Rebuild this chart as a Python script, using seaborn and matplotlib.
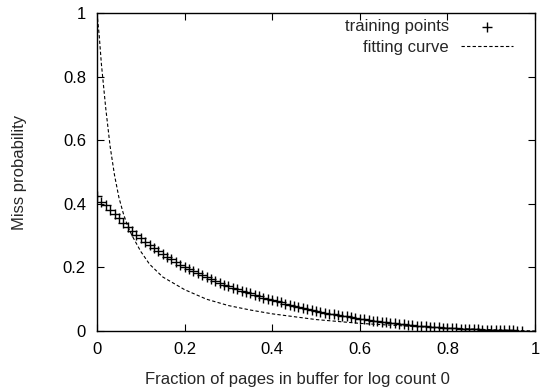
import matplotlib
matplotlib.use("Agg")
import matplotlib.pyplot as plt
import seaborn as sns
import pandas as pd

# Measured miss probability, sampled every 0.01 of buffer fraction
train_x = [i / 100 for i in range(98)]
train_miss = [
    0.425, 0.405, 0.395, 0.382, 0.368, 0.354, 0.340, 0.327, 0.315, 0.303,
    0.292, 0.281, 0.270, 0.260, 0.251, 0.242, 0.233, 0.225, 0.217, 0.209,
    0.202, 0.195, 0.188, 0.181, 0.175, 0.169, 0.163, 0.157, 0.152, 0.146,
    0.141, 0.136, 0.131, 0.127, 0.122, 0.118, 0.114, 0.110, 0.105, 0.101,
    0.097, 0.093, 0.090, 0.086, 0.083, 0.080, 0.077, 0.073, 0.070, 0.067,
    0.064, 0.061, 0.058, 0.055, 0.053, 0.050, 0.048, 0.046, 0.043, 0.041,
    0.039, 0.037, 0.035, 0.033, 0.031, 0.029, 0.027, 0.026, 0.024, 0.023,
    0.021, 0.020, 0.019, 0.017, 0.016, 0.015, 0.014, 0.013, 0.012, 0.011,
    0.010, 0.009, 0.008, 0.0075, 0.007, 0.006, 0.0055, 0.005, 0.0045, 0.004,
    0.004, 0.0035, 0.003, 0.0028, 0.0025, 0.002, 0.0015, 0.001,
]

# Fitted model evaluated along the buffer fraction
fit_x = [0.0, 0.005, 0.01, 0.02, 0.03, 0.04, 0.05, 0.06, 0.07, 0.08, 0.10,
         0.12, 0.15, 0.20, 0.25, 0.30, 0.35, 0.40, 0.50, 0.60, 0.70, 0.80,
         0.90, 1.00]
fit_miss = [1.0, 0.93, 0.84, 0.70, 0.58, 0.49, 0.42, 0.37, 0.33, 0.30, 0.25,
            0.21, 0.17, 0.13, 0.10, 0.08, 0.066, 0.054, 0.036, 0.024, 0.016,
            0.009, 0.004, 0.0]

x_ticks = [0, 0.2, 0.4, 0.6, 0.8, 1]
y_ticks = [0, 0.2, 0.4, 0.6, 0.8, 1]
x_tick_labels = ["0", "0.2", "0.4", "0.6", "0.8", "1"]
y_tick_labels = ["0", "0.2", "0.4", "0.6", "0.8", "1"]

sns.set_theme(style="ticks")
plt.rcParams["font.family"] = ["Liberation Sans", "DejaVu Sans"]
plt.rcParams["font.size"] = 12

train_df = pd.DataFrame({"x": train_x, "miss": train_miss})
fit_df = pd.DataFrame({"x": fit_x, "miss": fit_miss})

fig = plt.figure(figsize=(5.41, 3.92), dpi=100)
ax = fig.add_axes([97 / 541, 61 / 392, 438 / 541, 318 / 392])

sns.scatterplot(data=train_df, x="x", y="miss", marker="+", s=60,
                color="black", linewidth=1.0, ax=ax, label="training points",
                zorder=3)
sns.lineplot(data=fit_df, x="x", y="miss", color="black", linewidth=0.8,
             ax=ax, label="fitting curve", zorder=2)
ax.lines[-1].set_linestyle((0, (3, 2)))

ax.set_xlim(0, 1)
ax.set_ylim(0, 1)
ax.set_xticks(x_ticks)
ax.set_xticklabels(x_tick_labels)
ax.set_yticks(y_ticks)
ax.set_yticklabels(y_tick_labels)
ax.tick_params(direction="in", length=5, width=0.8, top=True, right=True,
               labelsize=12, colors="black", pad=8)
for side in ax.spines.values():
    side.set_visible(True)
    side.set_linewidth(1.0)
    side.set_color("black")

ax.set_xlabel("Fraction of pages in buffer for log count 0", fontsize=12,
              labelpad=11)
ax.xaxis.label.set_x(0.457)
ax.set_ylabel("Miss probability", fontsize=12, labelpad=26)

leg = ax.legend(loc="upper right", frameon=False, markerfirst=False,
                fontsize=12, handlelength=3.1, borderaxespad=0.0,
                borderpad=0.0, labelspacing=0.35, handletextpad=0.75,
                bbox_to_anchor=(513 / 541, (392 - 19) / 392),
                bbox_transform=fig.transFigure)
for t in leg.get_texts():
    t.set_ha("right")
leg._legend_box.align = "right"

fig.savefig("out.png", dpi=100)
